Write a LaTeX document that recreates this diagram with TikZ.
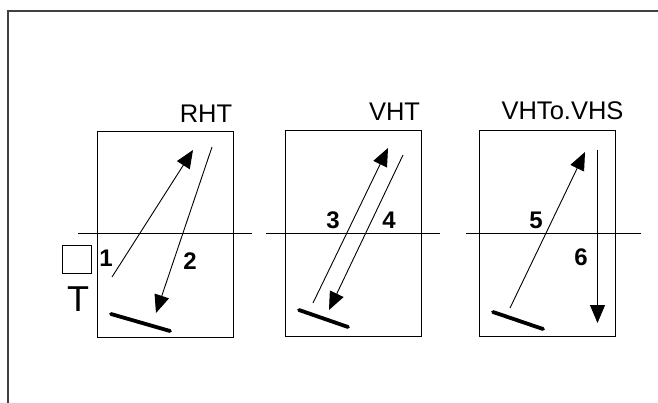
\documentclass[tikz,border=0pt]{standalone}
\usepackage{fontspec}
\setmainfont{Liberation Sans}
\usetikzlibrary{arrows.meta}
\begin{document}
\begin{tikzpicture}[x=1pt,y=-1pt,
  panel/.style={draw=black,line width=0.9pt,minimum width=136pt,minimum height=206pt,inner sep=0pt},
  level/.style={draw=black,line width=0.9pt},
  ray/.style={draw=black,line width=0.9pt},
  rayarrow/.style={ray,-{Triangle[length=18pt,width=15pt]}},
  mirror/.style={draw=black,line width=3.8pt,line cap=round},
  title/.style={inner sep=0pt,font=\fontsize{25.5}{28}\selectfont},
  num/.style={inner sep=0pt,font=\bfseries\fontsize{24}{27}\selectfont}]
\useasboundingbox (0,0) rectangle (658,403);
\fill[white] (0,0) rectangle (658,403);
% outer frame: only top and left edges are visible
\draw[line width=1.8pt,draw=black!75] (8,403) -- (8,11) -- (658,11);

% three panels
\node[panel] (p1) at (165,234.5) {};
\node[panel] (p2) at (353.5,233.5) {};
\node[panel] (p3) at (547.5,233) {};

% level lines
\coordinate (l1a) at (78,233.5);  \coordinate (l1b) at (252,233.5);
\coordinate (l2a) at (266,233.5); \coordinate (l2b) at (440,233.5);
\coordinate (l3a) at (466,233.5); \coordinate (l3b) at (641,233.5);
\draw[level] (l1a) -- (l1b);
\draw[level] (l2a) -- (l2b);
\draw[level] (l3a) -- (l3b);

% titles
\node[title] (t1) at (206,113.5) {RHT};
\node[title] (t2) at (394.5,111.5) {VHT};
\node[title] (t3) at (562.5,110.5) {VHTo.VHS};

% small square and T label
\node[draw=black,line width=0.8pt,minimum width=29pt,minimum height=28pt,inner sep=0pt] (sq) at (76.5,259) {};
\node[inner sep=0pt,font=\fontsize{36}{40}\selectfont] (tl) at (78,299) {T};

% panel 1 rays
\coordinate (a1s) at (112,277); \coordinate (a1e) at (193,150);
\coordinate (a2s) at (212,147); \coordinate (a2e) at (156,313);
\coordinate (m1a) at (111,314); \coordinate (m1b) at (170,331);
\draw[rayarrow] (a1s) -- (a1e);
\draw[rayarrow] (a2s) -- (a2e);
\draw[mirror] (m1a) -- (m1b);
\node[num] (n1) at (106,258.5) {1};
\node[num] (n2) at (190,261) {2};

% panel 2 rays
\coordinate (a3s) at (313,303); \coordinate (a3e) at (388,148);
\coordinate (a4s) at (403,155); \coordinate (a4e) at (329,310);
\coordinate (m2a) at (299,310); \coordinate (m2b) at (348,327);
\draw[rayarrow] (a3s) -- (a3e);
\draw[rayarrow] (a4s) -- (a4e);
\draw[mirror] (m2a) -- (m2b);
\node[num] (n3) at (333,220) {3};
\node[num] (n4) at (389,220) {4};

% panel 3 rays
\coordinate (a5s) at (510,308); \coordinate (a5e) at (585,152);
\coordinate (a6s) at (597.5,150); \coordinate (a6e) at (597.5,323);
\coordinate (m3a) at (493,312); \coordinate (m3b) at (543,329);
\draw[rayarrow] (a5s) -- (a5e);
\draw[rayarrow] (a6s) -- (a6e);
\draw[mirror] (m3a) -- (m3b);
\node[num] (n5) at (536,220) {5};
\node[num] (n6) at (581,257.5) {6};
\end{tikzpicture}
\end{document}
